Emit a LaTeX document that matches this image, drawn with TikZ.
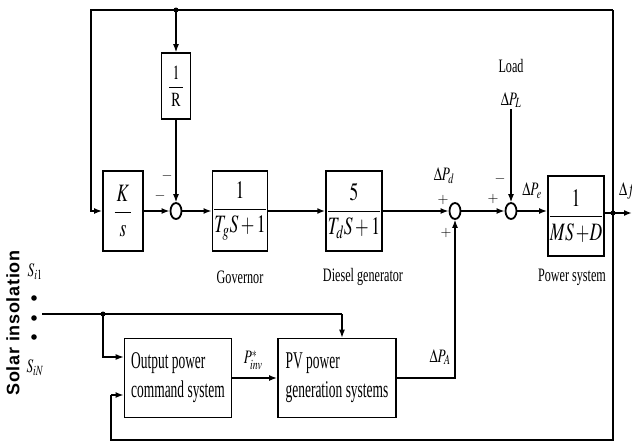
\documentclass[tikz,border=0pt]{standalone}
\usepackage{amsmath}
\usepackage{mathptmx}
\usepackage{graphicx}
\usepackage{fontspec}
\setmainfont{Liberation Serif}
\newfontfamily\lblfont[FakeStretch=0.64]{Liberation Serif}
\newfontfamily\boxfont[FakeStretch=0.56]{Liberation Serif}
\newfontfamily\solfont[LetterSpace=4]{Liberation Sans}
\usepackage{tikz}
\usetikzlibrary{shapes.geometric,arrows.meta}
\newcommand{\nm}[1]{\scalebox{0.7}[1]{$#1$}}

\begin{document}
\begin{tikzpicture}[x=1pt,y=-1pt,>={Latex[length=8pt,width=6pt]},line width=1.8pt,
    blk/.style={draw,inner sep=1pt,font=\fontsize{25}{27}\selectfont},
    txtbox/.style={draw,align=left,inner sep=3pt,font=\boxfont\fontsize{24}{29}\selectfont},
    sumj/.style={draw,ellipse,inner sep=0pt,minimum width=11pt,minimum height=16pt},
    lbl/.style={font=\lblfont\fontsize{19}{21}\selectfont,inner sep=1pt},
    sig/.style={font=\fontsize{19}{20}\selectfont,inner sep=0pt},
    sgn/.style={font=\fontsize{14}{15}\selectfont,inner sep=0pt},
    fine/.style={line width=1.1pt}]
          \useasboundingbox (0,0) rectangle (632,442);
          \node[blk,minimum width=40pt,minimum height=80pt] (ks) at (123,211) {\nm{\dfrac{\,K\,}{s}}};
          \node[blk,minimum width=29pt,minimum height=66pt,font=\fontsize{20}{22}\selectfont] (rr) at (176,86) {\nm{\dfrac{\;1\;}{\mathrm{R}}}};
          \node[sumj] (s1) at (176,211) {};
          \node[blk,minimum width=50pt,minimum height=80pt] (gov) at (240,211) {\nm{\dfrac{1}{T_g S+1}}};
          \node[blk,minimum width=48pt,minimum height=80pt] (dsl) at (354,211) {\nm{\dfrac{5}{T_d S+1}}};
          \node[sumj] (s2) at (455,211) {};
          \node[sumj] (s3) at (511,211) {};
          \node[blk,minimum width=48pt,minimum height=80pt] (pwr) at (576,216) {\nm{\dfrac{1}{MS\,{+}D}}};
          \node[txtbox,minimum width=107pt,minimum height=79pt] (out) at (178,378) {Output power\\command system};
          \node[txtbox,minimum width=118pt,minimum height=79pt] (pv) at (337,378) {PV power\\generation systems};
          \node[lbl] (lgov) at (240,277) {Governor};
          \node[lbl] (ldsl) at (363,277) {Diesel generator};
          \node[lbl] (lpwr) at (572,277) {Power system};
          \node[lbl] (lload) at (511,66) {Load};
          \node[sig] (dpl) at (511,100) {\nm{\Delta P_L}};
          \node[sig] (dpd) at (444,176) {\nm{\Delta P_d}};
          \node[sig] (dpe) at (532,191) {\nm{\Delta P_e}};
          \node[sig] (dpa) at (440,357) {\nm{\Delta P_A}};
          \node[sig] (pinv) at (253,360) {\nm{P^{*}_{inv}}};
          \node[sig] (df) at (627,191) {\nm{\Delta f}};
          \node[sig] (si1) at (35,272) {\nm{S_{i1}}};
          \node[sig] (siN) at (35,368) {\nm{S_{iN}}};
          \node[rotate=90,font=\solfont\bfseries\fontsize{18}{20}\selectfont] (sol) at (13,323) {Solar insolation};
          \node[sgn] (m1) at (167,176) {$-$}; \node[sgn] (m2) at (160,196) {$-$};
          \node[sgn] (p1) at (443,200) {$+$}; \node[sgn] (p2) at (446,233) {$+$};
          \node[sgn] (p3) at (493,199) {$+$}; \node[sgn] (m3) at (500,179) {$-$};
          \coordinate (tl) at (91,10); \coordinate (tr) at (613,10); \coordinate (tap) at (176,10);
          \coordinate (br) at (613,440); \coordinate (bl) at (111,440); \coordinate (fb) at (111,395);
          \coordinate (fo) at (632,213); \coordinate (fdot) at (613,213);
          \coordinate (sl) at (42,314); \coordinate (stap) at (103,314); \coordinate (sdn) at (103,357); \coordinate (spv) at (342,314);
          \draw[->] (tr) -- (tl) |- (ks);
          \draw[->,fine] (tap) -- (rr);
          \draw[->,fine] (rr) -- (s1);
          \draw[->] (ks) -- (s1);
          \draw[->] (s1) -- (gov);
          \draw[->] (gov) -- (dsl);
          \draw[->] (dsl) -- (s2);
          \draw[->] (s2) -- (s3);
          \draw[->] (s3) -- (pwr.west |- s3);
          \draw[->] (pwr.east |- fo) -- (fo);
          \draw[->,fine] (dpl) -- (s3);
          \draw[->,fine] (pv) -| (s2);
          \draw (tr) -- (br) -- (bl) -- (fb);
          \draw[->] (fb) -- (fb -| out.west);
          \draw (sl) -- (spv);
          \draw[->,fine] (spv) -- (spv |- pv.north);
          \draw[->,fine] (stap) -- (sdn) -- (sdn -| out.west);
          \draw[->] (out) -- (pv);
          \fill (tap) circle (2.5); \fill (fdot) circle (2.5); \fill (stap) circle (2.5);
          \fill (34,298) circle (2.8); \fill (34,318) circle (2.8); \fill (34,337) circle (2.8);
        \end{tikzpicture}
\end{document}
